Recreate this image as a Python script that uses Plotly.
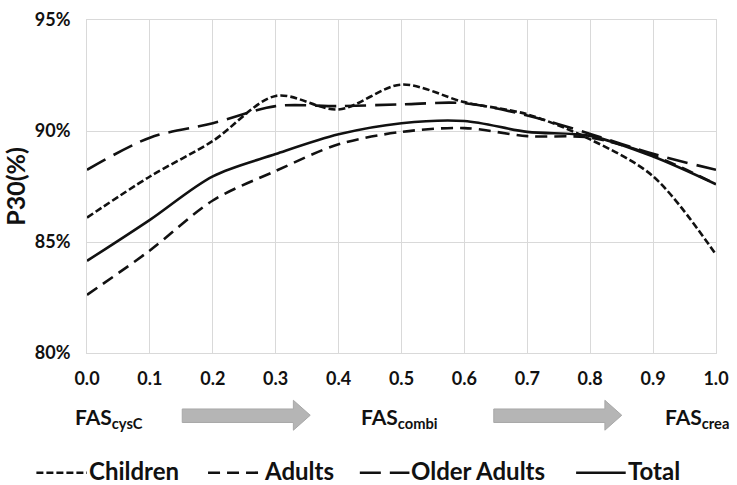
import plotly.graph_objects as go

# ---- data ----
x_vals = [0.0, 0.1, 0.2, 0.3, 0.4, 0.5, 0.6, 0.7, 0.8, 0.9, 1.0]
children = [86.1, 87.95, 89.55, 91.58, 90.97, 92.09, 91.3, 90.75, 89.62, 87.96, 84.43]
adults = [82.62, 84.62, 86.87, 88.2, 89.4, 89.96, 90.13, 89.77, 89.7, 88.9, 87.6]
older_adults = [88.25, 89.7, 90.35, 91.12, 91.12, 91.2, 91.25, 90.7, 89.87, 88.97, 88.25]
total = [84.15, 86.0, 87.96, 88.96, 89.85, 90.35, 90.45, 89.96, 89.78, 88.85, 87.6]

series_names = ["Children", "Adults", "Older Adults", "Total"]
y_ticks = [80, 85, 90, 95]
y_tick_labels = ["80%", "85%", "90%", "95%"]
stage_labels = ["FAS<sub>cysC</sub>", "FAS<sub>combi</sub>", "FAS<sub>crea</sub>"]

# ---- styling ----
W, H = 737, 485
ML, MR, MT, MB = 87, 16, 8, 132
PW, PH = W - ML - MR, H - MT - MB
FONT = "Lato"
dashes = ["7px,3px", "12px,7px", "21px,9px", "solid"]
LINE_W = 2.6
INK = "#111111"

def px2paper_x(px):
    return (px - ML) / PW

def px2paper_y(py):
    return (H - MB - py) / PH

fig = go.Figure()
for name, ys, dash in zip(series_names, [children, adults, older_adults, total], dashes):
    fig.add_trace(go.Scatter(
        x=x_vals, y=ys, mode="lines", name=name,
        line=dict(color=INK, width=LINE_W, dash=dash, shape="spline", smoothing=0.9),
        showlegend=False,
    ))

shapes = []
annotations = []

# arrows between the stage labels
def arrow(x0, x1, head_start):
    yb0, yb1 = px2paper_y(411), px2paper_y(425)
    yh0, yh1 = px2paper_y(402), px2paper_y(433)
    ym = px2paper_y(417.5)
    X = px2paper_x
    path = (f"M {X(x0)} {yb0} L {X(head_start)} {yb0} L {X(head_start)} {yh0} "
            f"L {X(x1)} {ym} L {X(head_start)} {yh1} L {X(head_start)} {yb1} "
            f"L {X(x0)} {yb1} Z")
    return dict(type="path", xref="paper", yref="paper", path=path,
                fillcolor="#b5b5b5", line=dict(color="#a8a8a8", width=1))

shapes.append(arrow(183, 312, 295))
shapes.append(arrow(497, 626, 609))

stage_x = [73, 361, 668]
for lbl, sx in zip(stage_labels, stage_x):
    annotations.append(dict(
        text=lbl, x=px2paper_x(sx), y=px2paper_y(420), xref="paper", yref="paper",
        xanchor="left", yanchor="middle", showarrow=False,
        font=dict(family=FONT, size=21, color=INK, weight="bold"),
    ))

# manual legend
leg_y = px2paper_y(477)
leg_samples = [(36, 87), (209, 263), (362, 412), (580, 630)]
for name, dash, (sx0, sx1) in zip(series_names, dashes, leg_samples):
    shapes.append(dict(type="line", xref="paper", yref="paper",
                       x0=px2paper_x(sx0), x1=px2paper_x(sx1), y0=leg_y, y1=leg_y,
                       line=dict(color=INK, width=LINE_W, dash=dash)))
    annotations.append(dict(
        text=name, x=px2paper_x(sx1), y=px2paper_y(475), xref="paper", yref="paper",
        xanchor="left", yanchor="middle", showarrow=False,
        font=dict(family=FONT, size=24, color=INK, weight="bold"),
    ))

grid = "#d9d9d9"
fig.update_layout(
    width=W, height=H,
    margin=dict(l=ML, r=MR, t=MT, b=MB),
    paper_bgcolor="white", plot_bgcolor="white",
    font=dict(family=FONT, color=INK),
    shapes=shapes, annotations=annotations,
    xaxis=dict(range=[0, 1], tickmode="linear", tick0=0, dtick=0.1, tickformat=".1f",
               showgrid=True, gridcolor=grid, gridwidth=1,
               showline=True, linecolor=grid, linewidth=1, mirror=True,
               zeroline=False, ticks="", ticklabelstandoff=9,
               ticklabeloverflow="allow",
               tickfont=dict(family=FONT, size=18, color=INK, weight="bold")),
    yaxis=dict(range=[80, 95], tickmode="array", tickvals=y_ticks, ticktext=y_tick_labels,
               showgrid=True, gridcolor=grid, gridwidth=1,
               showline=True, linecolor=grid, linewidth=1, mirror=True,
               zeroline=False, ticks="", ticklabelstandoff=12,
               ticklabeloverflow="allow",
               tickfont=dict(family=FONT, size=18, color=INK, weight="bold"),
               title=dict(text="P30(%)", standoff=8,
                          font=dict(family=FONT, size=25, color=INK, weight="bold"))),
)

fig.write_html("out.html", config={"displayModeBar": False},
               post_script="document.body.style.margin='0';document.body.style.overflow='hidden';")
